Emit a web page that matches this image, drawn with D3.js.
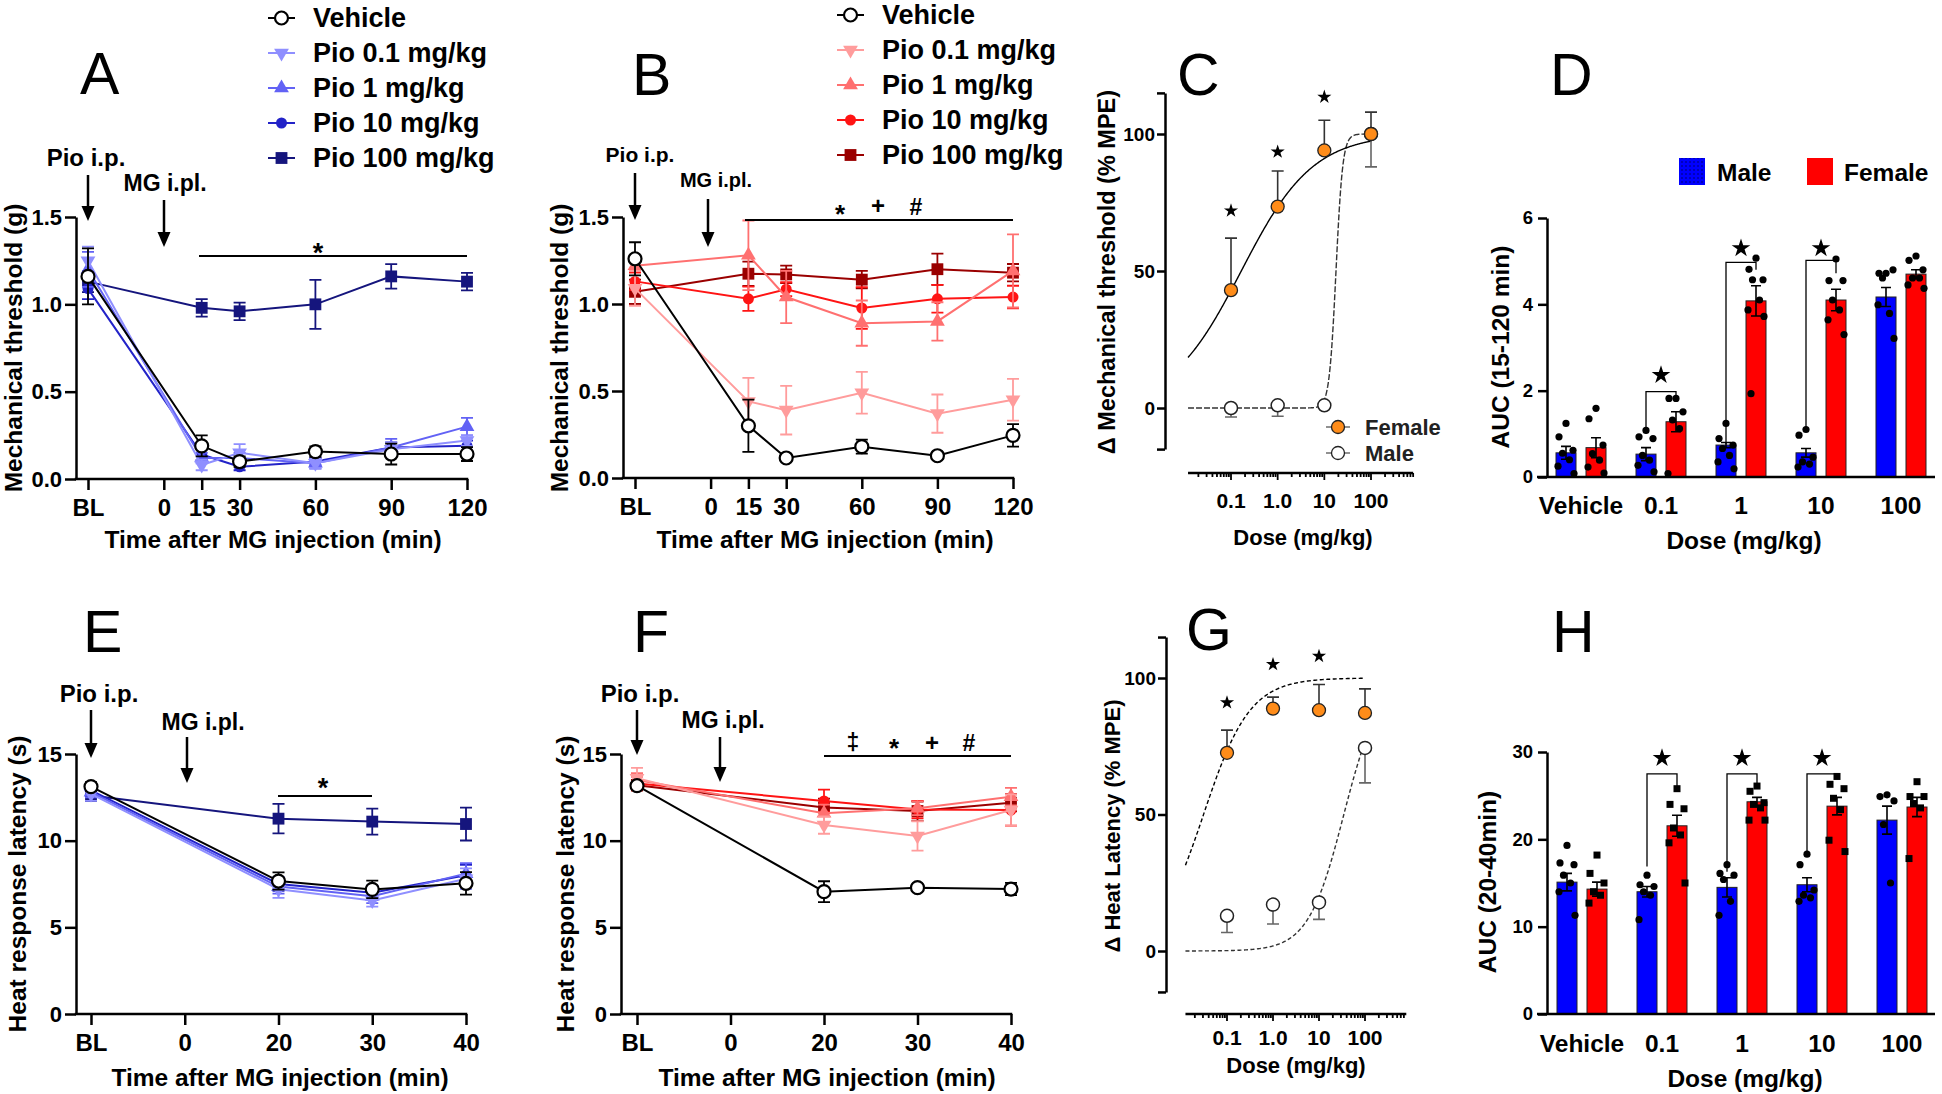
<!DOCTYPE html>
<html>
<head>
<meta charset="utf-8">
<script src="https://cdn.jsdelivr.net/npm/d3@7"></script>
<style>
  body { margin: 0; background: #fff; }
</style>
</head>
<body>
<script>
var FONT = '"Liberation Sans", Arial, Helvetica, sans-serif';

// ---------- categories and tick labels ----------
var groupNames = ["Vehicle", "Pio 0.1 mg/kg", "Pio 1 mg/kg", "Pio 10 mg/kg", "Pio 100 mg/kg"];
var mechTimes = ["BL", 15, 30, 60, 90, 120];
var mechTicks = ["BL", 0, 15, 30, 60, 90, 120];
var heatTimes = ["BL", "20", "30", "40"];
var heatTicks = ["BL", "0", "20", "30", "40"];
var doses = [0.1, 1, 10, 100];
var doseTickLabels = ["0.1", "1.0", "10", "100"];
var aucCats = ["Vehicle", "0.1", "1", "10", "100"];

// ---------- A: mechanical threshold, male (rows = groups) ----------
var aMean = [
  [1.16, 0.19, 0.10, 0.157, 0.143, 0.143],
  [1.25, 0.08, 0.15, 0.09, 0.17, 0.22],
  [1.20, 0.12, 0.12, 0.09, 0.18, 0.30],
  [1.09, 0.14, 0.07, 0.10, 0.18, 0.19],
  [1.13, 0.98, 0.96, 1.00, 1.16, 1.13]
];
var aSem = [
  [0.16, 0.06, 0.03, 0.03, 0.06, 0.04],
  [0.08, 0.03, 0.05, 0.03, 0.04, 0.03],
  [0.10, 0.03, 0.03, 0.03, 0.05, 0.05],
  [0.06, 0.03, 0.02, 0.02, 0.03, 0.03],
  [0.06, 0.05, 0.05, 0.14, 0.07, 0.05]
];
// ---------- B: mechanical threshold, female ----------
var bMean = [
  [1.26, 0.30, 0.115, 0.18, 0.128, 0.245],
  [1.09, 0.44, 0.39, 0.49, 0.37, 0.45],
  [1.22, 1.28, 1.04, 0.89, 0.90, 1.19],
  [1.13, 1.03, 1.085, 0.977, 1.03, 1.04],
  [1.07, 1.174, 1.17, 1.14, 1.20, 1.18]
];
var bSem = [
  [0.095, 0.15, 0.02, 0.04, 0.02, 0.065],
  [0.10, 0.135, 0.14, 0.12, 0.11, 0.12],
  [0.03, 0.20, 0.15, 0.13, 0.11, 0.21],
  [0.05, 0.07, 0.04, 0.12, 0.08, 0.065],
  [0.07, 0.07, 0.05, 0.05, 0.09, 0.05]
];
// ---------- E: heat latency, male ----------
var eMean = [
  [13.12, 7.67, 7.19, 7.54],
  [12.7, 7.2, 6.55, 7.8],
  [12.8, 7.35, 6.8, 8.1],
  [12.9, 7.5, 7.0, 8.0],
  [12.6, 11.27, 11.1, 10.96]
];
var eSem = [
  [0.25, 0.5, 0.5, 0.65],
  [0.4, 0.5, 0.35, 0.6],
  [0.3, 0.4, 0.4, 0.6],
  [0.3, 0.4, 0.4, 0.6],
  [0.3, 0.85, 0.75, 0.95]
];
// ---------- F: heat latency, female ----------
var fMean = [
  [13.17, 7.06, 7.29, 7.21],
  [13.6, 10.9, 10.27, 11.77],
  [13.5, 11.58, 11.87, 12.54],
  [13.3, 12.29, 11.8, 11.77],
  [13.2, 11.92, 11.71, 12.19]
];
var fSem = [
  [0.2, 0.6, 0.2, 0.35],
  [0.6, 0.5, 0.85, 0.9],
  [0.4, 0.5, 0.4, 0.5],
  [0.4, 0.65, 0.5, 0.9],
  [0.3, 0.5, 0.55, 0.5]
];

// ---------- C: dose response, mechanical (% MPE) ----------
var cFemale = [43, 73.5, 94, 100];
var cFemaleErr = [19, 13, 11, 8];
var cMale = [0, 1, 1, 100];
var cMaleErr = [3.3, 4, 0, 12];
var cFitFemale = [-0.78, 0.566];   // logEC50, hill slope
var cFitMale = [1.25, 6];
var cStars = [72, 93.5, 113.5];
// ---------- G: dose response, heat (% MPE) ----------
var gFemale = [72.6, 88.8, 88.2, 87.2];
var gFemaleErr = [8.3, 4.2, 9.4, 8.8];
var gMale = [12.9, 17, 17.8, 74.4];
var gMaleErr = [6.1, 7.1, 6.2, 12.8];
var gFitFemale = [-1.51, 0.861];
var gFitMale = [1.54, 1.12];
var gStars = [91, 105, 108];

// ---------- D: AUC 15-120 min ----------
var dMale = [0.56, 0.53, 0.74, 0.56, 4.17];
var dMaleErr = [0.15, 0.15, 0.06, 0.1, 0.22];
var dFemale = [0.68, 1.28, 4.08, 4.10, 4.70];
var dFemaleErr = [0.23, 0.23, 0.35, 0.25, 0.1];
var dMalePts = [
  [1.24, 0.93, 0.62, 0.55, 0.40, 0.25, 0.08],
  [1.08, 0.93, 0.89, 0.50, 0.39, 0.27, 0.12],
  [1.24, 0.89, 0.74, 0.66, 0.50, 0.35, 0.19],
  [1.10, 0.97, 0.46, 0.35, 0.30, 0.23],
  [4.72, 4.72, 4.80, 4.61, 3.79, 3.99, 3.21]
];
var dFemalePts = [
  [1.59, 1.35, 0.74, 0.54, 0.39, 0.23, 0.09],
  [1.82, 1.82, 1.51, 1.32, 1.12, 0.08],
  [5.07, 4.81, 4.57, 4.57, 4.10, 3.87, 3.72, 1.93],
  [5.05, 4.55, 4.55, 4.10, 3.87, 3.64, 3.30],
  [5.12, 5.02, 4.80, 4.61, 4.61, 4.45, 4.37]
];
var dBracketCats = ["0.1", "1", "10"];
var dBracketTop = [1.98, 4.97, 5.02];
var dBracketLeft = [1.0, 0.77, 1.08];
var dBracketRight = [1.78, 4.80, 4.72];
var dStarY = [2.36, 5.3, 5.3];

// ---------- H: AUC 20-40 min ----------
var hMale = [15.1, 14.0, 14.5, 14.8, 22.2];
var hMaleErr = [1.0, 0.6, 1.1, 0.8, 1.6];
var hFemale = [14.3, 21.55, 24.3, 23.8, 23.7];
var hFemaleErr = [0.8, 1.2, 0.5, 1.0, 1.1];
var hMalePts = [
  [19.3, 17.3, 17.1, 15.9, 15.0, 14.0, 11.3],
  [15.9, 14.8, 14.6, 14.0, 13.6, 10.8],
  [17.1, 16.1, 15.9, 15.4, 12.9, 11.3],
  [18.3, 17.1, 14.2, 13.6, 13.3, 12.9],
  [25.1, 24.9, 24.4, 21.7, 15.0]
];
var hFemalePts = [
  [18.2, 16.1, 15.0, 14.0, 13.6, 12.7],
  [25.8, 24.0, 23.5, 21.3, 20.5, 19.6, 15.0],
  [26.1, 25.5, 24.2, 24.0, 23.6, 22.2, 22.2],
  [27.2, 26.3, 25.8, 24.7, 23.4, 19.9, 18.6],
  [26.6, 24.9, 24.9, 24.1, 23.6, 17.8]
];
var hBracketCats = ["0.1", "1", "10"];
var hBracketTop = [27.5, 27.5, 27.5];
var hBracketLeft = [16.9, 16.3, 18.4];
var hBracketRight = [25.75, 25.75, 27.0];
var hStarY = [29.3, 29.3, 29.3];

// ---------- colours ----------
var blues = ["#000000", "#8f8fff", "#6262f5", "#2323c8", "#15157d"];
var reds = ["#000000", "#ff9c9c", "#ff7070", "#ff1414", "#9a0000"];
var orange = "#ff8c19";

var svg = d3.select("body").append("svg")
  .attr("width", 1942).attr("height", 1094)
  .attr("font-family", FONT);
svg.append("rect").attr("width", 1942).attr("height", 1094).attr("fill", "#fff");

var defs = svg.append("defs");
var pat = defs.append("pattern").attr("id", "dots")
  .attr("width", 4).attr("height", 4).attr("patternUnits", "userSpaceOnUse");
pat.append("rect").attr("width", 4).attr("height", 4).attr("fill", "#0000ff");
pat.append("circle").attr("cx", 2).attr("cy", 2).attr("r", 0.8).attr("fill", "#000066");

function addText(x, y, s, size, o) {
  o = o || {};
  var t = svg.append("text")
    .attr("x", x).attr("y", y)
    .attr("font-size", size)
    .attr("font-weight", o.weight || "bold")
    .attr("text-anchor", o.anchor || "middle")
    .attr("fill", o.fill || "#000")
    .text(s);
  if (o.mid) t.attr("dominant-baseline", "central");
  if (o.rot) t.attr("transform", "rotate(-90 " + x + " " + y + ")");
  return t;
}

function arrow(x, y1, y2) {
  svg.append("line").attr("x1", x).attr("x2", x).attr("y1", y1).attr("y2", y2 - 10)
    .attr("stroke", "#000").attr("stroke-width", 2.5);
  svg.append("path")
    .attr("d", "M" + (x - 6.5) + "," + (y2 - 15) + "L" + (x + 6.5) + "," + (y2 - 15) + "L" + x + "," + y2 + "Z")
    .attr("fill", "#000");
}

function styleAxis(g, size) {
  g.attr("font-family", FONT).attr("font-weight", "bold").attr("font-size", size);
  g.selectAll(".domain, .tick line").attr("stroke", "#000").attr("stroke-width", 2.5);
  g.selectAll(".tick text").attr("fill", "#000");
}

function drawMarker(g, kind, x, y, color) {
  if (kind === 0) {
    g.append("circle").attr("cx", x).attr("cy", y).attr("r", 6.5)
      .attr("fill", "#fff").attr("stroke", "#000").attr("stroke-width", 2.2);
  } else if (kind === 3) {
    g.append("circle").attr("cx", x).attr("cy", y).attr("r", 5.5).attr("fill", color);
  } else {
    var type = kind === 4 ? d3.symbolSquare : d3.symbolTriangle;
    var size = kind === 4 ? 140 : 95;
    var rot = kind === 1 ? 180 : 0;
    g.append("path").attr("d", d3.symbol().type(type).size(size)())
      .attr("transform", "translate(" + x + "," + y + ") rotate(" + rot + ")")
      .attr("fill", color);
  }
}

// ---------- time-course panels (A, B, E, F) ----------
function timePanel(p) {
  var g = svg.append("g");
  var y = d3.scaleLinear().domain(p.yDomain).range(p.yRange);

  var yAx = g.append("g").attr("transform", "translate(" + p.axisX + ",0)")
    .call(d3.axisLeft(y).tickValues(p.yTicks).tickFormat(p.yFmt)
      .tickSize(11).tickSizeOuter(0).tickPadding(3));
  styleAxis(yAx, 22);

  var xAx = g.append("g").attr("transform", "translate(0," + p.yRange[0] + ")")
    .call(d3.axisBottom(p.x).tickValues(p.xTicks).tickFormat(p.xFmt)
      .tickSize(11).tickPadding(9));
  xAx.select(".domain").remove();
  styleAxis(xAx, 24);
  var lastX = d3.max(p.xTicks.map(function(t) { return p.x(t); }));
  g.append("line").attr("x1", p.axisX - 1.25).attr("x2", lastX + 1.25)
    .attr("y1", p.yRange[0]).attr("y2", p.yRange[0])
    .attr("stroke", "#000").attr("stroke-width", 2.5);

  [4, 3, 2, 1, 0].forEach(function(i) {
    var c = p.colors[i];
    var pts = p.times.map(function(t, j) {
      return { x: p.x(p.tx(t)), m: p.mean[i][j], s: p.sem[i][j] };
    });
    g.append("path").datum(pts)
      .attr("d", d3.line().x(function(d) { return d.x; }).y(function(d) { return y(d.m); }))
      .attr("fill", "none").attr("stroke", c).attr("stroke-width", 2);
    pts.forEach(function(d) {
      var y1 = y(d.m - d.s), y2 = y(d.m + d.s);
      g.append("path")
        .attr("d", "M" + d.x + "," + y1 + "V" + y2 +
          "M" + (d.x - 6) + "," + y1 + "H" + (d.x + 6) +
          "M" + (d.x - 6) + "," + y2 + "H" + (d.x + 6))
        .attr("stroke", c).attr("stroke-width", 1.8).attr("fill", "none");
    });
    pts.forEach(function(d) { drawMarker(g, i, d.x, y(d.m), c); });
  });

  if (p.legX) {
    groupNames.forEach(function(name, i) {
      var ly = p.legTop + i * 35;
      g.append("line").attr("x1", p.legX).attr("x2", p.legX + 27)
        .attr("y1", ly).attr("y2", ly).attr("stroke", p.colors[i]).attr("stroke-width", 2);
      drawMarker(g, i, p.legX + 13.5, ly, p.colors[i]);
      addText(p.legX + 45, ly, name, 27, { anchor: "start", mid: true });
    });
  }

  addText(p.pio[0], p.pio[1], "Pio i.p.", p.pio[2], { mid: true });
  arrow(p.pioArrow[0], p.pioArrow[1], p.pioArrow[2]);
  addText(p.mg[0], p.mg[1], "MG i.pl.", p.mg[2], { mid: true });
  arrow(p.mgArrow[0], p.mgArrow[1], p.mgArrow[2]);
  g.append("line").attr("x1", p.sig[0]).attr("x2", p.sig[1])
    .attr("y1", p.sig[2]).attr("y2", p.sig[2])
    .attr("stroke", "#000").attr("stroke-width", 2.2);
  p.sigMarks.forEach(function(s) { addText(s[1], s[2], s[0], s[3]); });

  addText(p.xTitle[0], p.xTitle[1], "Time after MG injection (min)", 24.5, { mid: true });
  addText(p.yTitle[0], p.yTitle[1], p.yLabel, 24.5, { mid: true, rot: true });
  addText(p.letter[0], p.letter[1], p.letter[2], 59, { weight: "normal", anchor: "start" });
}

// ---------- dose-response panels (C, G) ----------
function dosePanel(p) {
  var g = svg.append("g");
  var k = (p.y0 - p.y100) / 100;
  var y = d3.scaleLinear().domain([-15, 115]).range([p.y0 + 15 * k, p.y0 - 115 * k]);
  var x = d3.scaleLog().domain([0.1, 100]).range([p.x01, p.x100]);

  var yAx = g.append("g").attr("transform", "translate(" + p.axisX + ",0)")
    .call(d3.axisLeft(y).tickValues([-15, 0, 50, 100, 115])
      .tickFormat(function(d) { return (d === 0 || d === 50 || d === 100) ? d : ""; })
      .tickSize(8).tickSizeOuter(0).tickPadding(2));
  styleAxis(yAx, 19);

  g.append("line").attr("x1", x(p.xlo)).attr("x2", x(p.xhi))
    .attr("y1", p.xAxisY).attr("y2", p.xAxisY)
    .attr("stroke", "#000").attr("stroke-width", 2.5);
  for (var e = -2; e <= 2; e++) {
    for (var m = 1; m <= 9; m++) {
      var v = m * Math.pow(10, e);
      if (v < p.xlo || v > p.xhi) continue;
      g.append("line").attr("x1", x(v)).attr("x2", x(v))
        .attr("y1", p.xAxisY).attr("y2", p.xAxisY + (m === 1 ? 7 : 4))
        .attr("stroke", "#000").attr("stroke-width", 1.8);
    }
  }
  doses.forEach(function(d, i) {
    addText(x(d), p.xLabY, doseTickLabels[i], 21, { mid: true });
  });

  // fitted curves
  function hill(fit) {
    return function(ld) { return 100 / (1 + Math.pow(10, (fit[0] - ld) * fit[1])); };
  }
  var lo = Math.log10(p.xlo);
  var lds = d3.range(0, 301).map(function(i) { return lo + i / 300 * (2 - lo); });
  [[p.fitMale, p.maleDash, "#333"], [p.fitFemale, p.femaleDash, "#000"]].forEach(function(f) {
    var fn = hill(f[0]);
    g.append("path").datum(lds)
      .attr("d", d3.line().x(function(ld) { return x(Math.pow(10, ld)); }).y(function(ld) { return y(fn(ld)); }))
      .attr("fill", "none").attr("stroke", f[2]).attr("stroke-width", 1.4)
      .attr("stroke-dasharray", f[1]);
  });

  // error bars: female upwards, male downwards
  doses.forEach(function(d, i) {
    var xx = x(d);
    var ym = y(p.male[i]), ymE = y(p.male[i] - p.maleErr[i]);
    if (p.maleErr[i] > 0) {
      g.append("path").attr("d", "M" + xx + "," + ym + "V" + ymE + "M" + (xx - 6) + "," + ymE + "H" + (xx + 6))
        .attr("stroke", "#666").attr("stroke-width", 1.6).attr("fill", "none");
    }
    var yf = y(p.female[i]), yfE = y(p.female[i] + p.femaleErr[i]);
    g.append("path").attr("d", "M" + xx + "," + yf + "V" + yfE + "M" + (xx - 6) + "," + yfE + "H" + (xx + 6))
      .attr("stroke", "#333").attr("stroke-width", 1.6).attr("fill", "none");
  });
  doses.forEach(function(d, i) {
    g.append("circle").attr("cx", x(d)).attr("cy", y(p.male[i])).attr("r", 6.5)
      .attr("fill", "#fff").attr("stroke", "#222").attr("stroke-width", 1.5);
  });
  doses.forEach(function(d, i) {
    g.append("circle").attr("cx", x(d)).attr("cy", y(p.female[i])).attr("r", 6.5)
      .attr("fill", orange).attr("stroke", "#222").attr("stroke-width", 1.3);
  });
  p.stars.forEach(function(s, i) {
    g.append("path").attr("d", d3.symbol().type(d3.symbolStar).size(62)())
      .attr("transform", "translate(" + x(doses[i]) + "," + y(s) + ")").attr("fill", "#000");
  });

  if (p.legend) {
    [["Female", orange], ["Male", "#fff"]].forEach(function(l, i) {
      var ly = p.legend[1] + i * 26;
      g.append("line").attr("x1", p.legend[0] - 12).attr("x2", p.legend[0] + 12)
        .attr("y1", ly).attr("y2", ly).attr("stroke", "#555").attr("stroke-width", 1.3);
      g.append("circle").attr("cx", p.legend[0]).attr("cy", ly).attr("r", 6.5)
        .attr("fill", l[1]).attr("stroke", "#222").attr("stroke-width", 1.3);
      addText(p.legend[0] + 27, ly, l[0], 22, { anchor: "start", mid: true, fill: "#222" });
    });
  }

  addText(p.xTitle[0], p.xTitle[1], "Dose (mg/kg)", 22, { mid: true });
  addText(p.yTitle[0], p.yTitle[1], p.yLabel, p.yTitle[2], { mid: true, rot: true });
  addText(p.letter[0], p.letter[1], p.letter[2], 59, { weight: "normal", anchor: "start" });
}

// ---------- AUC bar panels (D, H) ----------
var JIT = [0, -7, 7, -3.5, 3.5, -8, 8, -5];
function aucPanel(p) {
  var g = svg.append("g");
  var y = d3.scaleLinear().domain(p.yDomain).range(p.yRange);
  var x0 = d3.scaleBand().domain(aucCats).range(p.xRange);
  var bw = x0.bandwidth();
  var x1 = d3.scaleBand().domain(["Male", "Female"]).range([bw * 0.1875, bw * 0.8125]).paddingInner(1 / 3);

  var sexes = [
    { key: "Male", mean: p.male, err: p.maleErr, pts: p.malePts, fill: "#0000ff", sq: false },
    { key: "Female", mean: p.female, err: p.femaleErr, pts: p.femalePts, fill: "#ff0000", sq: p.femaleSquares }
  ];
  sexes.forEach(function(s) {
    aucCats.forEach(function(c, i) {
      var bx = x0(c) + x1(s.key), w = x1.bandwidth(), cx = bx + w / 2;
      g.append("rect").attr("x", bx).attr("y", y(s.mean[i]))
        .attr("width", w).attr("height", y(0) - y(s.mean[i]))
        .attr("fill", s.fill).attr("stroke", "#222").attr("stroke-width", 1);
      var e1 = y(s.mean[i] - s.err[i]), e2 = y(s.mean[i] + s.err[i]);
      g.append("path").attr("d", "M" + cx + "," + e1 + "V" + e2 + "M" + (cx - 5) + "," + e2 + "H" + (cx + 5) +
          "M" + (cx - 5) + "," + e1 + "H" + (cx + 5))
        .attr("stroke", "#000").attr("stroke-width", 1.6).attr("fill", "none");
      s.pts[i].forEach(function(v, j) {
        var px = cx + JIT[j % JIT.length];
        if (s.sq) {
          g.append("rect").attr("x", px - 3.5).attr("y", y(v) - 3.5).attr("width", 7).attr("height", 7).attr("fill", "#000");
        } else {
          g.append("circle").attr("cx", px).attr("cy", y(v)).attr("r", 3.6).attr("fill", "#000");
        }
      });
    });
  });

  p.bracketCats.forEach(function(c, i) {
    var xl = x0(c) + x1("Male") + x1.bandwidth() / 2;
    var xr = x0(c) + x1("Female") + x1.bandwidth() / 2;
    g.append("path")
      .attr("d", "M" + xl + "," + y(p.bracketLeft[i]) + "V" + y(p.bracketTop[i]) + "H" + xr + "V" + y(p.bracketRight[i]))
      .attr("fill", "none").attr("stroke", "#000").attr("stroke-width", 1.3);
    g.append("path").attr("d", d3.symbol().type(d3.symbolStar).size(108)())
      .attr("transform", "translate(" + (x0(c) + bw / 2) + "," + y(p.starY[i]) + ")").attr("fill", "#000");
  });

  var yAx = g.append("g").attr("transform", "translate(" + p.axisX + ",0)")
    .call(d3.axisLeft(y).tickValues(p.yTicks).tickFormat(d3.format("d"))
      .tickSize(9).tickSizeOuter(0).tickPadding(5));
  styleAxis(yAx, 18.5);
  g.append("line").attr("x1", p.axisX - 10).attr("x2", p.xEnd)
    .attr("y1", y(0)).attr("y2", y(0)).attr("stroke", "#000").attr("stroke-width", 2.5);
  aucCats.forEach(function(c) {
    addText(x0(c) + bw / 2, p.xLabY, c, 24.5, { mid: true });
  });

  if (p.legend) {
    var lx = p.legend[0], ly = p.legend[1];
    g.append("rect").attr("x", lx).attr("y", ly).attr("width", 26).attr("height", 27).attr("fill", "url(#dots)");
    addText(lx + 38, ly + 14, "Male", 24.5, { anchor: "start", mid: true });
    g.append("rect").attr("x", lx + 128).attr("y", ly).attr("width", 26).attr("height", 27).attr("fill", "#ff0000");
    addText(lx + 165, ly + 14, "Female", 24.5, { anchor: "start", mid: true });
  }

  addText(p.xTitle[0], p.xTitle[1], "Dose (mg/kg)", 24.5, { mid: true });
  addText(p.yTitle[0], p.yTitle[1], p.yLabel, 24.5, { mid: true, rot: true });
  addText(p.letter[0], p.letter[1], p.letter[2], 59, { weight: "normal", anchor: "start" });
}

function mechX(t) { return t === "BL" ? -30 : t; }
function mechFmt(d) { return d === -30 ? "BL" : d; }
var mechTickVals = mechTicks.map(mechX);

// A
timePanel({
  axisX: 76, yRange: [479, 217], yDomain: [0, 1.5], yTicks: [0, 0.5, 1, 1.5], yFmt: d3.format(".1f"),
  x: d3.scaleLinear().domain([-30, 120]).range([88, 467]),
  xTicks: mechTickVals, xFmt: mechFmt, times: mechTimes, tx: mechX,
  mean: aMean, sem: aSem, colors: blues, legX: 268, legTop: 18,
  pio: [86, 157, 24], pioArrow: [88, 175, 221], mg: [165, 183, 23], mgArrow: [164, 200, 247],
  sig: [199, 467, 256], sigMarks: [["*", 318, 262, 27]],
  xTitle: [273, 539], yTitle: [13, 348], yLabel: "Mechanical threshold (g)", letter: [80, 94, "A"]
});
// B
timePanel({
  axisX: 623, yRange: [478, 217], yDomain: [0, 1.5], yTicks: [0, 0.5, 1, 1.5], yFmt: d3.format(".1f"),
  x: d3.scaleLinear().domain([-30, 120]).range([635, 1013]),
  xTicks: mechTickVals, xFmt: mechFmt, times: mechTimes, tx: mechX,
  mean: bMean, sem: bSem, colors: reds, legX: 837, legTop: 15,
  pio: [640, 154, 21], pioArrow: [635, 173, 220], mg: [716, 180, 20], mgArrow: [708, 199, 247],
  sig: [745, 1013, 220], sigMarks: [["*", 840, 223, 26], ["+", 878, 214, 24], ["#", 916, 215, 23]],
  xTitle: [825, 539], yTitle: [559, 348], yLabel: "Mechanical threshold (g)", letter: [632, 95, "B"]
});
// E
timePanel({
  axisX: 76, yRange: [1014, 754], yDomain: [0, 15], yTicks: [0, 5, 10, 15], yFmt: d3.format("d"),
  x: d3.scalePoint().domain(heatTicks).range([91, 466]),
  xTicks: heatTicks, xFmt: function(d) { return d; }, times: heatTimes, tx: function(t) { return t; },
  mean: eMean, sem: eSem, colors: blues, legX: 0,
  pio: [99, 693, 24], pioArrow: [91, 710, 758], mg: [203, 722, 23], mgArrow: [187, 737, 783],
  sig: [278, 372, 796], sigMarks: [["*", 323, 797, 27]],
  xTitle: [280, 1077], yTitle: [17, 884], yLabel: "Heat response latency (s)", letter: [83, 652, "E"]
});
// F
timePanel({
  axisX: 621, yRange: [1014, 754], yDomain: [0, 15], yTicks: [0, 5, 10, 15], yFmt: d3.format("d"),
  x: d3.scalePoint().domain(heatTicks).range([637, 1011]),
  xTicks: heatTicks, xFmt: function(d) { return d; }, times: heatTimes, tx: function(t) { return t; },
  mean: fMean, sem: fSem, colors: reds, legX: 0,
  pio: [640, 693, 24], pioArrow: [637, 710, 755], mg: [723, 720, 23], mgArrow: [720, 737, 782],
  sig: [824, 1011, 756],
  sigMarks: [["\u2021", 853, 750, 23], ["*", 894, 757, 26], ["+", 932, 751, 24], ["#", 969, 751, 23]],
  xTitle: [827, 1077], yTitle: [565, 884], yLabel: "Heat response latency (s)", letter: [633, 652, "F"]
});
// C
dosePanel({
  axisX: 1165, y0: 408, y100: 134, x01: 1231, x100: 1371, xAxisY: 473, xlo: 0.012, xhi: 800, xLabY: 500,
  female: cFemale, femaleErr: cFemaleErr, male: cMale, maleErr: cMaleErr,
  fitFemale: cFitFemale, fitMale: cFitMale, femaleDash: "none", maleDash: "6,2",
  stars: cStars, legend: [1338, 427],
  xTitle: [1303, 537], yTitle: [1107, 272, 23.5], yLabel: "\u0394 Mechanical threshold (% MPE)",
  letter: [1177, 95, "C"]
});
// G
dosePanel({
  axisX: 1166, y0: 951, y100: 678, x01: 1227, x100: 1365, xAxisY: 1014, xlo: 0.0125, xhi: 790, xLabY: 1037,
  female: gFemale, femaleErr: gFemaleErr, male: gMale, maleErr: gMaleErr,
  fitFemale: gFitFemale, fitMale: gFitMale, femaleDash: "4,2.5", maleDash: "4,2.5",
  stars: gStars, legend: null,
  xTitle: [1296, 1065], yTitle: [1112, 826, 22], yLabel: "\u0394 Heat Latency (% MPE)",
  letter: [1186, 650, "G"]
});
// D
aucPanel({
  axisX: 1547, yRange: [477, 218], yDomain: [0, 6], yTicks: [0, 2, 4, 6], xRange: [1541, 1941], xEnd: 1935, xLabY: 505,
  male: dMale, maleErr: dMaleErr, female: dFemale, femaleErr: dFemaleErr,
  malePts: dMalePts, femalePts: dFemalePts, femaleSquares: false,
  bracketCats: dBracketCats, bracketTop: dBracketTop, bracketLeft: dBracketLeft, bracketRight: dBracketRight, starY: dStarY,
  legend: [1679, 158],
  xTitle: [1744, 540], yTitle: [1500, 347], yLabel: "AUC (15-120 min)", letter: [1550, 95, "D"]
});
// H
aucPanel({
  axisX: 1547, yRange: [1014, 752], yDomain: [0, 30], yTicks: [0, 10, 20, 30], xRange: [1542, 1942], xEnd: 1935, xLabY: 1043,
  male: hMale, maleErr: hMaleErr, female: hFemale, femaleErr: hFemaleErr,
  malePts: hMalePts, femalePts: hFemalePts, femaleSquares: true,
  bracketCats: hBracketCats, bracketTop: hBracketTop, bracketLeft: hBracketLeft, bracketRight: hBracketRight, starY: hStarY,
  legend: null,
  xTitle: [1745, 1078], yTitle: [1487, 882], yLabel: "AUC (20-40min)", letter: [1552, 652, "H"]
});
</script>
</body>
</html>
